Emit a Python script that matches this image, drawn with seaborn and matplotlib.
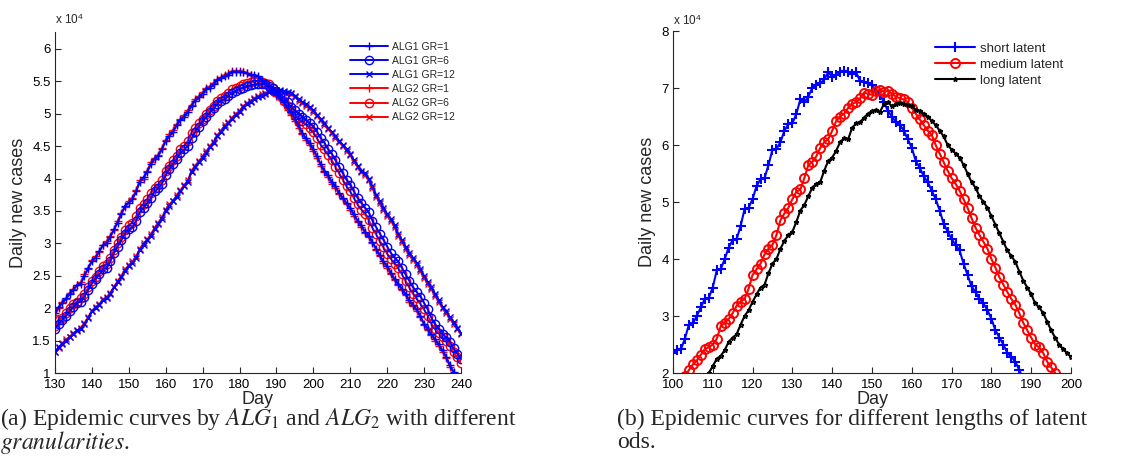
import numpy as np
import pandas as pd
import seaborn as sns
import matplotlib.pyplot as plt
from matplotlib.ticker import FuncFormatter

# ---- data (daily new cases, units of 10^4) ----
days_a = list(range(130, 241))

alg1_gr1 = [1.92, 2.02, 2.08, 2.15, 2.22, 2.28, 2.36, 2.38, 2.50, 2.62,
            2.72, 2.78, 2.88, 2.97, 3.00, 3.10, 3.22, 3.32, 3.45, 3.58,
            3.62, 3.68, 3.80, 3.95, 4.02, 4.10, 4.22, 4.30, 4.35, 4.45,
            4.58, 4.65, 4.72, 4.82, 4.90, 4.95, 5.02, 5.12, 5.20, 5.25,
            5.30, 5.38, 5.40, 5.45, 5.52, 5.55, 5.58, 5.60, 5.64, 5.65,
            5.65, 5.64, 5.62, 5.60, 5.60, 5.58, 5.52, 5.48, 5.42, 5.35,
            5.30, 5.25, 5.18, 5.10, 5.02, 4.92, 4.82, 4.70, 4.62, 4.55,
            4.45, 4.35, 4.22, 4.12, 4.05, 3.95, 3.88, 3.78, 3.70, 3.62,
            3.55, 3.45, 3.35, 3.28, 3.18, 3.12, 3.02, 2.92, 2.82, 2.72,
            2.65, 2.55, 2.45, 2.38, 2.30, 2.22, 2.12, 2.05, 1.98, 1.88,
            1.76, 1.68, 1.60, 1.52, 1.44, 1.35, 1.25, 1.12, 1.02, 0.92, 0.85]
alg1_gr6 = [1.68, 1.75, 1.82, 1.88, 1.95, 2.02, 2.08, 2.10, 2.18, 2.28,
            2.38, 2.45, 2.52, 2.60, 2.62, 2.72, 2.85, 2.95, 3.05, 3.15,
            3.22, 3.25, 3.35, 3.48, 3.55, 3.62, 3.70, 3.80, 3.85, 3.92,
            4.05, 4.15, 4.22, 4.30, 4.40, 4.45, 4.50, 4.62, 4.72, 4.80,
            4.88, 4.95, 5.02, 5.08, 5.15, 5.20, 5.22, 5.28, 5.32, 5.35,
            5.38, 5.40, 5.42, 5.44, 5.45, 5.46, 5.46, 5.45, 5.43, 5.40,
            5.35, 5.30, 5.25, 5.18, 5.10, 5.05, 5.00, 4.95, 4.90, 4.85,
            4.80, 4.72, 4.62, 4.55, 4.45, 4.38, 4.28, 4.18, 4.08, 3.98,
            3.90, 3.80, 3.70, 3.62, 3.55, 3.48, 3.35, 3.25, 3.15, 3.05,
            2.95, 2.85, 2.78, 2.72, 2.62, 2.52, 2.42, 2.32, 2.25, 2.18,
            2.08, 1.98, 1.85, 1.75, 1.68, 1.60, 1.55, 1.48, 1.38, 1.30, 1.22]
alg1_gr12 = [1.33, 1.40, 1.45, 1.50, 1.55, 1.60, 1.66, 1.68, 1.75, 1.85,
             1.95, 2.00, 2.05, 2.12, 2.15, 2.22, 2.32, 2.40, 2.48, 2.58,
             2.65, 2.70, 2.78, 2.90, 2.98, 3.05, 3.12, 3.22, 3.30, 3.38,
             3.50, 3.58, 3.65, 3.72, 3.80, 3.88, 3.95, 4.10, 4.18, 4.25,
             4.32, 4.40, 4.48, 4.55, 4.65, 4.72, 4.80, 4.85, 4.92, 4.98,
             5.02, 5.10, 5.15, 5.18, 5.22, 5.25, 5.28, 5.30, 5.33, 5.35,
             5.36, 5.36, 5.35, 5.33, 5.32, 5.28, 5.22, 5.18, 5.15, 5.10,
             5.05, 4.98, 4.92, 4.85, 4.78, 4.72, 4.65, 4.58, 4.52, 4.45,
             4.38, 4.28, 4.20, 4.12, 4.08, 4.00, 3.88, 3.75, 3.65, 3.55,
             3.45, 3.38, 3.28, 3.15, 3.05, 2.95, 2.85, 2.78, 2.70, 2.60,
             2.50, 2.40, 2.32, 2.22, 2.12, 2.02, 1.95, 1.86, 1.78, 1.70, 1.62]
alg2_gr1 = [1.90, 2.00, 2.10, 2.14, 2.24, 2.30, 2.35, 2.40, 2.52, 2.60,
            2.74, 2.80, 2.86, 2.98, 3.03, 3.12, 3.20, 3.35, 3.47, 3.56,
            3.65, 3.70, 3.82, 3.97, 4.00, 4.12, 4.25, 4.32, 4.37, 4.47,
            4.60, 4.68, 4.75, 4.84, 4.92, 4.98, 5.05, 5.14, 5.22, 5.27,
            5.33, 5.40, 5.42, 5.48, 5.53, 5.56, 5.60, 5.62, 5.66, 5.66,
            5.66, 5.65, 5.63, 5.60, 5.58, 5.56, 5.50, 5.46, 5.40, 5.33,
            5.28, 5.22, 5.15, 5.06, 4.98, 4.88, 4.78, 4.68, 4.60, 4.52,
            4.42, 4.32, 4.20, 4.10, 4.02, 3.92, 3.85, 3.76, 3.68, 3.60,
            3.52, 3.42, 3.33, 3.25, 3.16, 3.10, 3.00, 2.90, 2.80, 2.70,
            2.62, 2.52, 2.43, 2.36, 2.28, 2.20, 2.10, 2.03, 1.96, 1.86,
            1.74, 1.66, 1.58, 1.50, 1.42, 1.33, 1.23, 1.10, 1.00, 0.90, 0.83]
alg2_gr6 = [1.72, 1.82, 1.85, 1.92, 2.00, 2.06, 2.10, 2.15, 2.22, 2.32,
            2.42, 2.48, 2.58, 2.65, 2.68, 2.78, 2.90, 3.00, 3.10, 3.20,
            3.28, 3.32, 3.42, 3.55, 3.60, 3.68, 3.78, 3.85, 3.90, 3.98,
            4.12, 4.20, 4.28, 4.35, 4.45, 4.50, 4.58, 4.70, 4.78, 4.85,
            4.92, 5.00, 5.06, 5.12, 5.20, 5.24, 5.28, 5.32, 5.38, 5.40,
            5.42, 5.46, 5.48, 5.49, 5.50, 5.50, 5.49, 5.48, 5.45, 5.40,
            5.33, 5.27, 5.20, 5.12, 5.05, 4.98, 4.94, 4.88, 4.84, 4.78,
            4.72, 4.62, 4.52, 4.45, 4.36, 4.28, 4.18, 4.08, 3.98, 3.88,
            3.80, 3.70, 3.60, 3.52, 3.45, 3.36, 3.24, 3.14, 3.04, 2.94,
            2.84, 2.76, 2.68, 2.62, 2.52, 2.42, 2.32, 2.22, 2.15, 2.07,
            1.98, 1.88, 1.76, 1.68, 1.62, 1.55, 1.50, 1.42, 1.32, 1.24, 1.16]
alg2_gr12 = [1.32, 1.38, 1.46, 1.52, 1.56, 1.62, 1.65, 1.70, 1.77, 1.86,
             1.96, 2.02, 2.06, 2.14, 2.17, 2.24, 2.33, 2.42, 2.50, 2.60,
             2.66, 2.72, 2.80, 2.92, 3.00, 3.06, 3.14, 3.24, 3.32, 3.40,
             3.52, 3.60, 3.66, 3.74, 3.82, 3.90, 3.97, 4.12, 4.20, 4.27,
             4.34, 4.42, 4.50, 4.57, 4.67, 4.74, 4.82, 4.87, 4.94, 5.00,
             5.04, 5.12, 5.16, 5.20, 5.24, 5.27, 5.30, 5.32, 5.34, 5.36,
             5.36, 5.35, 5.34, 5.32, 5.30, 5.26, 5.20, 5.16, 5.12, 5.08,
             5.03, 4.96, 4.90, 4.83, 4.76, 4.70, 4.63, 4.56, 4.50, 4.43,
             4.36, 4.26, 4.18, 4.10, 4.05, 3.97, 3.85, 3.72, 3.62, 3.52,
             3.42, 3.35, 3.25, 3.12, 3.02, 2.92, 2.82, 2.75, 2.67, 2.57,
             2.47, 2.37, 2.29, 2.19, 2.09, 2.00, 1.92, 1.84, 1.76, 1.68, 1.60]

days_short = list(range(100, 189))
short_latent = [2.35, 2.40, 2.42, 2.60, 2.85, 2.87, 3.00, 3.15, 3.30, 3.32,
                3.50, 3.80, 3.82, 4.00, 4.20, 4.33, 4.35, 4.58, 4.88, 4.90,
                5.05, 5.28, 5.40, 5.42, 5.65, 5.92, 5.93, 6.05, 6.25, 6.37,
                6.38, 6.55, 6.80, 6.75, 6.85, 7.00, 7.05, 7.08, 7.15, 7.28,
                7.20, 7.22, 7.28, 7.30, 7.28, 7.25, 7.28, 7.12, 7.10, 7.08,
                7.05, 6.95, 6.88, 6.75, 6.60, 6.50, 6.40, 6.35, 6.25, 6.10,
                5.95, 5.72, 5.60, 5.45, 5.35, 5.20, 5.05, 4.85, 4.62, 4.48,
                4.35, 4.25, 4.15, 3.92, 3.72, 3.52, 3.42, 3.30, 3.22, 3.10,
                2.95, 2.75, 2.62, 2.50, 2.35, 2.28, 2.20, 2.05, 1.90]

days_medium = list(range(103, 198))
medium_latent = [1.95, 2.05, 2.15, 2.22, 2.32, 2.42, 2.45, 2.50, 2.60, 2.82,
                 2.88, 2.95, 3.05, 3.18, 3.25, 3.30, 3.48, 3.72, 3.82, 3.92,
                 4.08, 4.18, 4.25, 4.42, 4.68, 4.80, 4.90, 5.05, 5.18, 5.22,
                 5.42, 5.65, 5.70, 5.80, 5.95, 6.05, 6.10, 6.25, 6.42, 6.50,
                 6.55, 6.65, 6.72, 6.75, 6.82, 6.92, 6.90, 6.88, 6.95, 6.97,
                 6.93, 6.95, 6.90, 6.85, 6.82, 6.80, 6.75, 6.65, 6.55, 6.45,
                 6.35, 6.25, 6.18, 6.00, 5.85, 5.70, 5.55, 5.42, 5.32, 5.20,
                 5.05, 4.90, 4.72, 4.55, 4.42, 4.30, 4.18, 4.00, 3.85, 3.68,
                 3.55, 3.42, 3.30, 3.20, 3.05, 2.88, 2.75, 2.62, 2.50, 2.45,
                 2.35, 2.20, 2.10, 2.00, 1.90]

days_long = list(range(108, 201))
long_latent = [1.85, 2.00, 2.12, 2.25, 2.30, 2.40, 2.55, 2.62, 2.68, 2.85,
               3.00, 3.10, 3.25, 3.38, 3.50, 3.55, 3.75, 3.92, 4.00, 4.18,
               4.32, 4.42, 4.48, 4.65, 4.85, 4.95, 5.10, 5.25, 5.32, 5.35,
               5.55, 5.72, 5.78, 5.90, 6.05, 6.12, 6.10, 6.30, 6.38, 6.40,
               6.48, 6.55, 6.60, 6.62, 6.58, 6.72, 6.75, 6.68, 6.72, 6.73,
               6.72, 6.70, 6.68, 6.62, 6.60, 6.55, 6.50, 6.42, 6.35, 6.25,
               6.15, 6.00, 5.92, 5.85, 5.78, 5.65, 5.50, 5.35, 5.25, 5.10,
               5.00, 4.90, 4.75, 4.60, 4.45, 4.30, 4.15, 4.05, 3.95, 3.78,
               3.62, 3.50, 3.38, 3.22, 3.15, 3.05, 2.90, 2.75, 2.62, 2.50,
               2.42, 2.35, 2.28]

sns.set_style("white")
plt.rcParams['font.family'] = ['Liberation Sans', 'DejaVu Sans']
plt.rcParams['mathtext.fontset'] = 'stix'
plt.rcParams['xtick.direction'] = 'in'
plt.rcParams['ytick.direction'] = 'in'

fig = plt.figure(figsize=(11.31, 4.75), dpi=100)
ax1 = fig.add_axes([0.0486, 0.2147, 0.359, 0.718])
ax2 = fig.add_axes([0.595, 0.2147, 0.352, 0.72])

dark = '#262626'


def style_axes(ax):
    for side in ['top', 'right']:
        ax.spines[side].set_visible(False)
    for side in ['left', 'bottom']:
        ax.spines[side].set_color(dark)
        ax.spines[side].set_linewidth(0.8)
    ax.tick_params(axis='both', which='both', length=4, width=0.8, colors=dark,
                   labelsize=9.5, labelcolor='black', bottom=True, left=True)
    ax.tick_params(axis='x', pad=4)
    ax.tick_params(axis='y', pad=3)
    ax.yaxis.set_major_formatter(FuncFormatter(lambda v, p: ('%g' % v)))
    ax.set_xlabel('Day', fontsize=13, labelpad=0)
    ax.set_ylabel('Daily new cases', fontsize=13, labelpad=4)


# ---- (a) ALG1 vs ALG2 ----
left_series = [
    ('ALG2 GR=1', alg2_gr1, 'red', '+', 5.5),
    ('ALG2 GR=6', alg2_gr6, 'red', 'o', 6),
    ('ALG2 GR=12', alg2_gr12, 'red', 'x', 4.5),
    ('ALG1 GR=1', alg1_gr1, 'blue', '+', 5.5),
    ('ALG1 GR=6', alg1_gr6, 'blue', 'o', 6),
    ('ALG1 GR=12', alg1_gr12, 'blue', 'x', 4.5),
]
for name, vals, col, mk, ms in left_series:
    df = pd.DataFrame({'day': days_a, 'cases': vals})
    sns.lineplot(data=df, x='day', y='cases', ax=ax1, color=col, marker=mk,
                 markersize=ms, mec=col, mfc='none', mew=1.0, linewidth=1.4,
                 label=name)

ax1.set_xlim(130, 240)
ax1.set_ylim(1, 6.26)
ax1.set_xticks(range(130, 241, 10))
ax1.set_yticks(np.arange(1, 6.01, 0.5))
style_axes(ax1)
ax1.text(0.0, 1.015, r'x 10$^{\mathregular{4}}$', transform=ax1.transAxes, fontsize=8.5,
         ha='left', va='bottom')

handles, labels = ax1.get_legend_handles_labels()
order = [3, 4, 5, 0, 1, 2]
ax1.legend([handles[i] for i in order], [labels[i] for i in order],
           loc='upper right', bbox_to_anchor=(1.0, 0.99), frameon=False,
           fontsize=7.5, handlelength=3.6, handletextpad=0.4, labelspacing=0.4,
           borderaxespad=0.2)

# ---- (b) latent period lengths ----
right_series = [
    ('short latent', days_short, short_latent, 'blue', '+', 7, 1.5),
    ('medium latent', days_medium, medium_latent, 'red', 'o', 6.5, 1.4),
    ('long latent', days_long, long_latent, 'black', '*', 3.5, 1.0),
]
for name, dd, vals, col, mk, ms, mw in right_series:
    df = pd.DataFrame({'day': dd, 'cases': vals})
    sns.lineplot(data=df, x='day', y='cases', ax=ax2, color=col, marker=mk,
                 markersize=ms, mec=col, mfc='none', mew=mw, linewidth=1.5,
                 label=name)

ax2.set_xlim(100, 200)
ax2.set_ylim(2, 8)
ax2.set_xticks(range(100, 201, 10))
ax2.set_yticks(range(2, 9))
style_axes(ax2)
ax2.text(0.0, 1.01, r'x 10$^{\mathregular{4}}$', transform=ax2.transAxes, fontsize=8.5,
         ha='left', va='bottom')
ax2.legend(loc='upper right', bbox_to_anchor=(1.0, 0.99), frameon=False,
           fontsize=9.5, handlelength=3.0, handletextpad=0.4, labelspacing=0.3,
           borderaxespad=0.2)

# ---- captions ----
cap = dict(fontsize=17, family=['Liberation Serif', 'DejaVu Serif'], ha='left', va='center')
fig.text(0.0, 1 - 419 / 475, r'(a) Epidemic curves by $ALG_1$ and $ALG_2$ with different', **cap)
fig.text(0.0, 1 - 443 / 475, r'$\mathit{granularities}$.', **cap)
fig.text(617 / 1131, 1 - 419 / 475, '(b) Epidemic curves for different lengths of latent', **cap)
fig.text(617 / 1131, 1 - 443 / 475, 'ods.', **cap)

fig.savefig('out.png', dpi=100)
